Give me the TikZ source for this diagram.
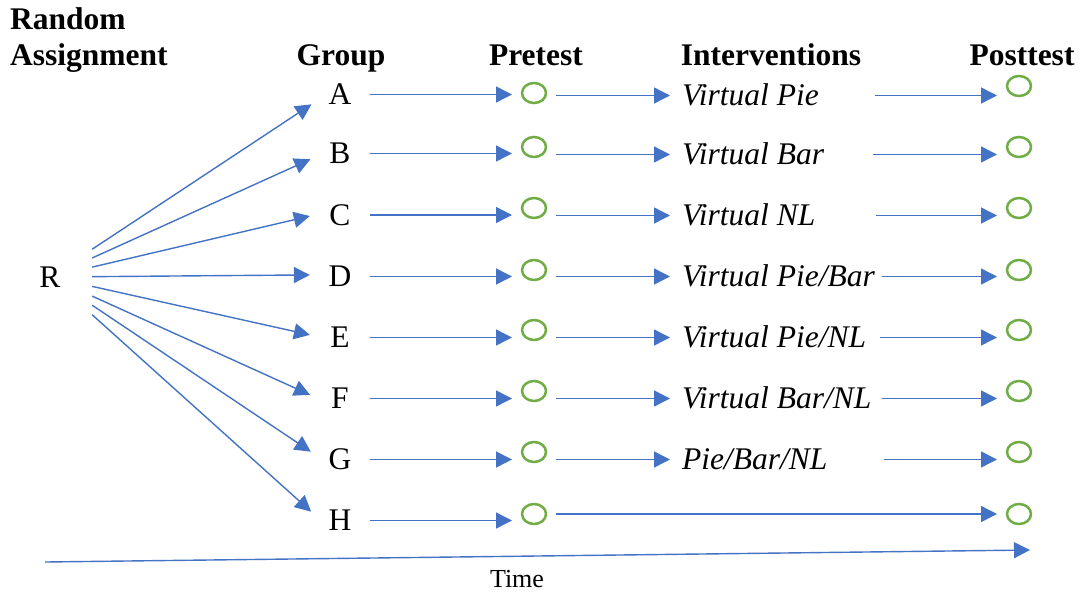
\documentclass[tikz,border=0pt]{standalone}
\usepackage{fontspec}
\setmainfont{Liberation Serif}
\usetikzlibrary{arrows.meta,shapes.geometric}
\definecolor{lblue}{HTML}{4472C4}
\definecolor{lgreen}{HTML}{70AD47}
\newcommand{\ivbox}[2]{\makebox[#1][l]{#2}}
\begin{document}
\begin{tikzpicture}[x=1pt,y=-1pt,
  arr/.style={draw=lblue, line width=1.4pt, -{Triangle[length=16pt,width=16pt]}},
  hdr/.style={font=\fontsize{31.5}{36}\selectfont\bfseries, inner sep=0pt, anchor=base},
  grp/.style={circle, minimum size=60pt, inner sep=0pt, font=\fontsize{31.5}{36}\selectfont},
  obs/.style={ellipse, draw=lgreen, line width=2.5pt, minimum width=24pt, minimum height=20pt, inner sep=0pt, outer sep=10pt},
  inter/.style={font=\fontsize{31.5}{36}\selectfont\itshape, inner sep=0pt, outer xsep=12pt, outer ysep=0pt,
    anchor=base west, text height=22pt, text depth=3pt}
]
\useasboundingbox (0,0) rectangle (1079,592);

% headers
\node[hdr, anchor=base west] (h0a) at (10,29) {Random};
\node[hdr, anchor=base west] (h0b) at (10,65) {Assignment};
\node[hdr] (h1) at (341,65) {Group};
\node[hdr] (h2) at (536,65) {Pretest};
\node[hdr] (h3) at (771,65) {Interventions};
\node[hdr] (h4) at (1022,65) {Posttest};

% random assignment
\node[rectangle, minimum width=84pt, minimum height=80pt, inner sep=0pt,
  font=\fontsize{31.5}{36}\selectfont] (R) at (50,277) {R};

% groups
\node[grp] (gA) at (340,94.5) {A};
\node[grp] (gB) at (340,153.5) {B};
\node[grp] (gC) at (340,215) {C};
\node[grp] (gD) at (340,276.5) {D};
\node[grp] (gE) at (340,337.5) {E};
\node[grp] (gF) at (340,398.5) {F};
\node[grp] (gG) at (340,459.5) {G};
\node[grp] (gH) at (340,520.5) {H};

% pretest
\node[obs] (pA) at (534,93) {};
\node[obs] (pB) at (534,147) {};
\node[obs] (pC) at (534,208) {};
\node[obs] (pD) at (534,270) {};
\node[obs] (pE) at (534,330) {};
\node[obs] (pF) at (534,391) {};
\node[obs] (pG) at (534,452) {};
\node[obs] (pH) at (534,514) {};

% interventions
\node[inter] (iA) at (670,105) {\ivbox{181pt}{Virtual Pie}};
\node[inter] (iB) at (670,164) {\ivbox{179pt}{Virtual Bar}};
\node[inter] (iC) at (670,225) {\ivbox{182pt}{Virtual NL}};
\node[inter] (iD) at (670,286) {\ivbox{188pt}{Virtual Pie/Bar}};
\node[inter] (iE) at (670,347) {\ivbox{186pt}{Virtual Pie/NL}};
\node[inter] (iF) at (670,408) {\ivbox{188pt}{Virtual Bar/NL}};
\node[inter] (iG) at (670,469) {\ivbox{190pt}{Pie/Bar/NL}};

% posttest
\node[obs] (oA) at (1019,86) {};
\node[obs] (oB) at (1019,147) {};
\node[obs] (oC) at (1019,208) {};
\node[obs] (oD) at (1019,270) {};
\node[obs] (oE) at (1019,330) {};
\node[obs] (oF) at (1019,391) {};
\node[obs] (oG) at (1019,452) {};
\node[obs] (oH) at (1019,514) {};

% fan
\draw[arr] (R) -- (gA.199);
\draw[arr] (R) -- (gB.191);
\draw[arr] (R) -- (gC.182);
\draw[arr] (R) -- (gD.177);
\draw[arr] (R) -- (gE.175);
\draw[arr] (R) -- (gF.173);
\draw[arr] (R) -- (gG.165);
\draw[arr] (R) -- (gH.163);

% group -> pretest
\foreach \r in {A,B,C,D,E,F,G,H}{
  \draw[arr] (g\r) -- (g\r -| p\r.west);
}
% pretest -> intervention -> posttest
\foreach \r in {A,B,C,D,E,F,G}{
  \draw[arr] (p\r.east |- i\r.west) -- (i\r.west);
  \draw[arr] (i\r.east) -- (i\r.east -| o\r.west);
}
\draw[arr] (pH) -- (oH);

% time
\coordinate (t0) at (45,562);
\coordinate (t1) at (1030,550);
\draw[arr] (t0) -- (t1);
\node[font=\fontsize{26}{30}\selectfont, inner sep=0pt, anchor=base] (time) at (517,587) {Time};
\end{tikzpicture}
\end{document}
